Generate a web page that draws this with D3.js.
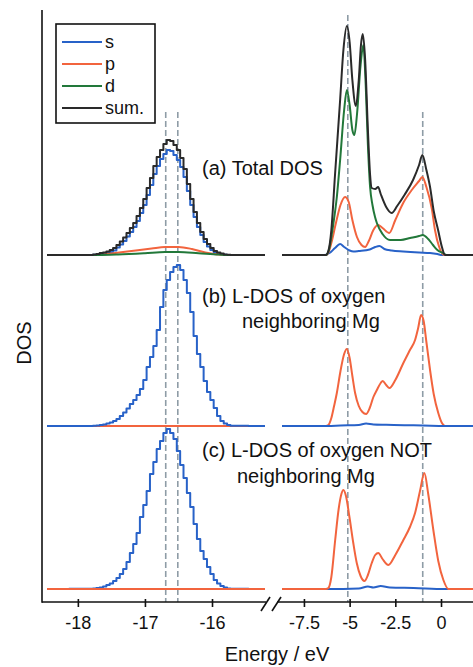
<!DOCTYPE html>
<html>
<head>
<meta charset="utf-8">
<script src="https://cdn.jsdelivr.net/npm/d3@7"></script>
<style>
  body { margin: 0; background: #fff; }
  svg { display: block; font-family: "Liberation Sans", Arial, sans-serif; }
</style>
</head>
<body>
<div id="chart"></div>
<script>
// ---- data (energies in eV, DOS in arbitrary units) ----
const orbitals = ["s", "p", "d", "sum."];
const leftTicks = [-18, -17, -16];
const leftTickLabels = ["-18", "-17", "-16"];
const rightTicks = [-7.5, -5, -2.5, 0];
const rightTickLabels = ["-7.5", "-5", "-2.5", "0"];
const panelLabels = [
  ["(a) Total DOS"],
  ["(b) L-DOS of oxygen", "neighboring Mg"],
  ["(c) L-DOS of oxygen NOT", "neighboring Mg"]
];
const refLinesLeft = [-16.69, -16.51];
const refLinesRight = [-5.1, -1.0];
const refTops = [47.7, 47.7, 57.4, 47.7];

// O 2s region: histogram bins
const binE = [-17.80, -17.75, -17.70, -17.65, -17.60, -17.55, -17.50, -17.45, -17.40, -17.35,
  -17.30, -17.25, -17.20, -17.15, -17.10, -17.05, -17.00, -16.95, -16.90, -16.85,
  -16.80, -16.75, -16.70, -16.65, -16.60, -16.55, -16.50, -16.45, -16.40, -16.35,
  -16.30, -16.25, -16.20, -16.15, -16.10, -16.05, -16.00, -15.95, -15.90, -15.85,
  -15.80, -15.75, -15.70];
const sumA_low = [0, 0.05, 0.1, 0.2, 0.25, 0.35, 0.5, 0.7, 1.0, 1.35,
  1.75, 2.2, 2.7, 3.2, 3.9, 4.7, 5.6, 6.7, 7.7, 8.9,
  9.8, 10.5, 11.1, 11.5, 11.4, 11.0, 10.5, 9.7, 8.6, 7.1,
  5.6, 4.3, 3.2, 2.3, 1.6, 1.1, 0.7, 0.4, 0.25, 0.15,
  0.05, 0.02, 0];
const sA_low = [0, 0.03, 0.06, 0.1, 0.15, 0.22, 0.3, 0.45, 0.75, 1.05,
  1.4, 1.85, 2.3, 2.8, 3.4, 4.2, 5.0, 6.0, 7.0, 8.1,
  8.9, 9.6, 10.1, 10.5, 10.4, 10.0, 9.5, 8.8, 7.8, 6.4,
  5.0, 3.8, 2.8, 2.0, 1.3, 0.85, 0.5, 0.28, 0.15, 0.08,
  0.02, 0, 0];
const sB_low = [0, 0.02, 0.05, 0.1, 0.15, 0.25, 0.35, 0.5, 0.7, 1.0,
  1.35, 1.75, 2.2, 2.6, 3.1, 3.7, 4.6, 5.9, 6.9, 8.0,
  9.6, 11.9, 13.6, 14.6, 15.4, 15.9, 16.1, 15.6, 14.6, 13.3,
  11.4, 9.0, 7.2, 5.9, 4.5, 3.4, 2.6, 1.8, 1.0, 0.5,
  0.25, 0.1, 0.02];
const sC_low = [0.02, 0.05, 0.1, 0.15, 0.25, 0.4, 0.55, 0.8, 1.1, 1.5,
  2.0, 2.7, 3.6, 4.5, 5.6, 7.2, 8.4, 9.8, 11.5, 12.7,
  14.0, 14.8, 15.6, 16.0, 15.6, 15.0, 13.8, 12.4, 11.1, 9.6,
  8.2, 6.5, 5.0, 3.8, 3.0, 2.2, 1.5, 0.9, 0.55, 0.3,
  0.15, 0.05, 0.02];
const pA_low = [[-17.7, 0], [-17.5, 0.15], [-17.2, 0.4], [-16.9, 0.65], [-16.7, 0.8], [-16.5, 0.8],
  [-16.3, 0.6], [-16.1, 0.25], [-15.9, 0.05], [-15.7, 0]];
const dA_low = [[-17.7, 0], [-17.4, 0.05], [-17.0, 0.18], [-16.7, 0.3], [-16.5, 0.3],
  [-16.2, 0.18], [-15.9, 0.05], [-15.7, 0]];

// valence band region
const sumA_val = [[-6.3, 0], [-6.15, 0.5], [-6.0, 2.5], [-5.8, 8], [-5.52, 15.5], [-5.34, 20.5],
  [-5.15, 22.9], [-5.0, 21.3], [-4.85, 17.5], [-4.66, 14.9], [-4.5, 17.5], [-4.38, 21], [-4.28, 22.1],
  [-4.15, 19.5], [-4.0, 12.5], [-3.88, 8], [-3.79, 6.7], [-3.6, 6.6], [-3.44, 6.8], [-3.3, 6.1],
  [-3.0, 4.8], [-2.7, 4.2], [-2.4, 4.9], [-2.0, 6.0], [-1.53, 7.5], [-1.2, 9.0], [-1.02, 10.0],
  [-0.8, 8.5], [-0.6, 6.8], [-0.4, 4.4], [-0.16, 2.5], [0.05, 0.8], [0.22, 0]];
const dA_val = [[-6.3, 0], [-6.15, 0.4], [-5.9, 3], [-5.7, 5.8], [-5.52, 9.5], [-5.3, 14.5],
  [-5.15, 16.5], [-5.0, 15], [-4.85, 12.5], [-4.74, 12.0], [-4.6, 14], [-4.4, 19], [-4.25, 21.0],
  [-4.12, 17], [-4.0, 11], [-3.88, 6.8], [-3.75, 5], [-3.61, 3.8], [-3.51, 3.2], [-3.2, 2.1],
  [-2.79, 1.5], [-2.2, 1.5], [-1.69, 1.7], [-1.2, 1.9], [-1.0, 2.0], [-0.7, 1.6], [-0.44, 1.0],
  [-0.2, 0.5], [0.11, 0.2], [0.3, 0]];
const pA_val = [[-6.3, 0], [-6.15, 0.3], [-6.0, 1.2], [-5.75, 3.2], [-5.5, 5.0], [-5.25, 5.8],
  [-5.05, 5.3], [-4.85, 3.5], [-4.6, 1.8], [-4.35, 1.0], [-4.15, 0.8], [-3.95, 1.4], [-3.7, 2.5],
  [-3.45, 3.0], [-3.2, 2.7], [-2.83, 2.2], [-2.5, 3.5], [-2.07, 5.2], [-1.6, 6.5], [-1.2, 7.4],
  [-1.02, 7.8], [-0.8, 6.8], [-0.5, 4.6], [-0.33, 2.5], [-0.1, 0.8], [0.2, 0]];
const sA_val = [[-6.4, 0], [-6.1, 0.2], [-5.8, 0.7], [-5.52, 1.1], [-5.3, 0.8], [-5.0, 0.45],
  [-4.79, 0.35], [-4.5, 0.4], [-3.9, 0.55], [-3.6, 0.8], [-3.37, 0.9], [-3.1, 0.6], [-2.7, 0.45],
  [-2.07, 0.35], [-1.2, 0.25], [-0.6, 0.2], [-0.2, 0.1], [0.05, 0]];
const pB_val = [[-6.3, 0], [-6.16, 0.1], [-6.0, 0.8], [-5.85, 2], [-5.7, 3.3], [-5.5, 5.5],
  [-5.3, 7.2], [-5.15, 7.7], [-5.0, 6.8], [-4.85, 5.0], [-4.7, 3.3], [-4.5, 2.0], [-4.3, 1.4],
  [-4.1, 1.2], [-3.9, 1.8], [-3.7, 2.9], [-3.51, 3.6], [-3.3, 4.3], [-3.19, 4.5], [-3.0, 4.1],
  [-2.82, 3.8], [-2.5, 4.6], [-2.06, 6.3], [-1.7, 7.6], [-1.42, 8.6], [-1.25, 9.8], [-1.09, 11.1],
  [-0.95, 10.5], [-0.8, 8.4], [-0.6, 5.6], [-0.4, 3.2], [-0.15, 1.3], [0.05, 0.3], [0.22, 0]];
const sB_val = [[-6.2, 0], [-5.5, 0.05], [-4.5, 0.1], [-4.1, 0.25], [-3.7, 0.15], [-3.0, 0.12],
  [-2.0, 0.08], [-1.0, 0.05], [0.2, 0]];
const pC_val = [[-6.3, 0], [-6.16, 0.1], [-6.0, 1.2], [-5.79, 4.9], [-5.6, 8.0], [-5.45, 9.5],
  [-5.34, 9.9], [-5.2, 9.3], [-5.01, 7.2], [-4.8, 4.6], [-4.61, 2.6], [-4.4, 1.3], [-4.19, 0.8],
  [-4.0, 1.4], [-3.79, 2.6], [-3.6, 3.4], [-3.43, 3.6], [-3.2, 3.0], [-2.88, 2.4], [-2.5, 3.4],
  [-2.06, 4.9], [-1.7, 6.2], [-1.42, 7.6], [-1.15, 9.8], [-0.91, 11.6], [-0.7, 9.5], [-0.42, 5.9],
  [-0.15, 2.8], [0.13, 0.9], [0.4, 0]];
const sC_val = [[-6.2, 0], [-4.5, 0.05], [-4.0, 0.25], [-3.7, 0.15], [-3.3, 0.3], [-2.8, 0.15],
  [-1.5, 0.1], [0.2, 0]];

// ---- layout ----
const W = 473, H = 667;
const colors = {s: "#2862c8", p: "#f2643e", d: "#22783a", sum: "#2a2a2a"};
const panelOffset = [33.4, 16.3, 0];   // baseline of panels a, b, c in DOS units

const svg = d3.select("#chart").append("svg")
  .attr("width", W).attr("height", H);

const xL = d3.scaleLinear().domain([-18.46, -15.21]).range([47, 265]);
const xR = d3.scaleLinear().domain([-8.7, 1.75]).range([282, 473]);
const y = d3.scaleLinear().domain([-1.3, 57.9]).range([602, 10]);

// reference lines
const refs = refLinesLeft.map(e => ({x: xL(e)})).concat(refLinesRight.map(e => ({x: xR(e)})));
svg.append("g").selectAll("line")
  .data(refs)
  .enter().append("line")
  .attr("x1", d => d.x).attr("x2", d => d.x)
  .attr("y1", (d, i) => y(refTops[i]))
  .attr("y2", y(-1.3))
  .attr("stroke", "#8e9ca6")
  .attr("stroke-width", 1.6)
  .attr("stroke-dasharray", "6,3");

function drawSeries(pts, xs, off, color, curve, width) {
  let dom = xs.domain();
  let full = [[dom[0], 0]].concat(pts).concat([[dom[1], 0]]);
  let line = d3.line()
    .x(d => xs(d[0]))
    .y(d => y(d[1] + off))
    .curve(curve);
  svg.append("path")
    .datum(full)
    .attr("d", line)
    .attr("fill", "none")
    .attr("stroke", color)
    .attr("stroke-width", width)
    .attr("stroke-linejoin", "round");
}

const bins = arr => binE.map((e, i) => [e, arr[i]]);

// panel (a)
drawSeries(bins(sA_low), xL, panelOffset[0], colors.s, d3.curveStep, 2);
drawSeries(pA_low, xL, panelOffset[0], colors.p, d3.curveMonotoneX, 2);
drawSeries(dA_low, xL, panelOffset[0], colors.d, d3.curveMonotoneX, 2);
drawSeries(bins(sumA_low), xL, panelOffset[0], colors.sum, d3.curveStep, 2);
drawSeries(sA_val, xR, panelOffset[0], colors.s, d3.curveMonotoneX, 2);
drawSeries(pA_val, xR, panelOffset[0], colors.p, d3.curveMonotoneX, 2);
drawSeries(dA_val, xR, panelOffset[0], colors.d, d3.curveMonotoneX, 2);
drawSeries(sumA_val, xR, panelOffset[0], colors.sum, d3.curveMonotoneX, 2);

// panel (b)
drawSeries([], xL, panelOffset[1], colors.p, d3.curveLinear, 2);
drawSeries(bins(sB_low), xL, panelOffset[1], colors.s, d3.curveStep, 2);
drawSeries(pB_val, xR, panelOffset[1], colors.p, d3.curveMonotoneX, 2);
drawSeries(sB_val, xR, panelOffset[1], colors.s, d3.curveMonotoneX, 2);

// panel (c)
drawSeries(bins(sC_low), xL, panelOffset[2], colors.s, d3.curveStep, 2);
drawSeries([], xL, panelOffset[2], colors.p, d3.curveLinear, 2);
drawSeries(sC_val, xR, panelOffset[2], colors.s, d3.curveMonotoneX, 2);
drawSeries(pC_val, xR, panelOffset[2], colors.p, d3.curveMonotoneX, 2);

// panel labels
const labelPos = [
  [{x: 202, y: 175}],
  [{x: 202, y: 303}, {x: 242, y: 328}],
  [{x: 202, y: 457}, {x: 237, y: 483}]
];
panelLabels.forEach(function(lines, p) {
  lines.forEach(function(t, i) {
    svg.append("text")
      .attr("x", labelPos[p][i].x)
      .attr("y", labelPos[p][i].y)
      .attr("font-size", "20px")
      .attr("fill", "#111")
      .text(t);
  });
});

// axes
const ax = svg.append("g").attr("stroke", "#111").attr("stroke-width", 1.6);
ax.append("line").attr("x1", 42).attr("x2", 42).attr("y1", 10).attr("y2", 602.8);
ax.append("line").attr("x1", 42).attr("x2", 266).attr("y1", 602).attr("y2", 602);
ax.append("line").attr("x1", 277).attr("x2", 473).attr("y1", 602).attr("y2", 602);
ax.append("line").attr("x1", 261).attr("x2", 270).attr("y1", 611).attr("y2", 597);
ax.append("line").attr("x1", 272).attr("x2", 281).attr("y1", 611).attr("y2", 597);

function bottomAxis(xs, ticks, labels) {
  let g = svg.append("g")
    .attr("transform", "translate(0,602)")
    .call(d3.axisBottom(xs).tickValues(ticks).tickSize(5).tickSizeOuter(0)
      .tickFormat((d, i) => labels[i]));
  g.select(".domain").remove();
  g.selectAll(".tick line")
    .attr("y1", -3)
    .attr("stroke", "#111")
    .attr("stroke-width", 1.6);
  g.selectAll(".tick text")
    .attr("y", 14)
    .attr("font-size", "18px")
    .attr("font-family", "Liberation Sans, Arial, sans-serif")
    .attr("fill", "#111");
}
bottomAxis(xL, leftTicks, leftTickLabels);
bottomAxis(xR, rightTicks, rightTickLabels);

svg.append("text")
  .attr("x", 277).attr("y", 661)
  .attr("text-anchor", "middle")
  .attr("font-size", "20px")
  .attr("fill", "#111")
  .text("Energy / eV");

svg.append("text")
  .attr("transform", "translate(31,343) rotate(-90)")
  .attr("text-anchor", "middle")
  .attr("font-size", "20px")
  .attr("fill", "#111")
  .text("DOS");

// legend
const leg = svg.append("g").attr("transform", "translate(56,24)");
leg.append("rect")
  .attr("width", 99).attr("height", 99)
  .attr("fill", "#fff")
  .attr("stroke", "#111")
  .attr("stroke-width", 1.6);
const legColors = [colors.s, colors.p, colors.d, colors.sum];
const item = leg.selectAll("g.item")
  .data(orbitals)
  .enter().append("g")
  .attr("class", "item")
  .attr("transform", (d, i) => "translate(0," + (18 + i * 22) + ")");
item.append("line")
  .attr("x1", 6).attr("x2", 46)
  .attr("stroke", (d, i) => legColors[i])
  .attr("stroke-width", 2);
item.append("text")
  .attr("x", 49).attr("y", 6)
  .attr("font-size", "18px")
  .attr("fill", "#111")
  .text(d => d);
</script>
</body>
</html>
